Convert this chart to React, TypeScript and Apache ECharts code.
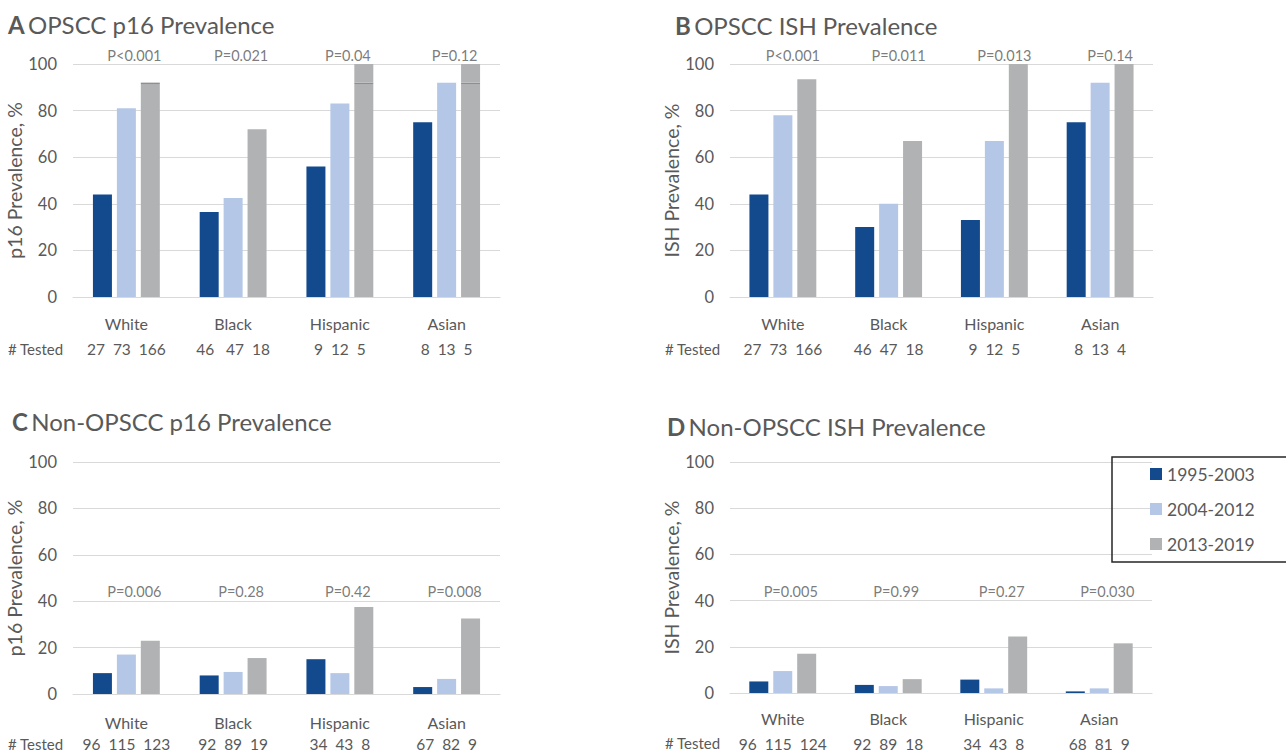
import React, { useEffect, useRef } from "react";
import * as echarts from "echarts";

const categories = ["White", "Black", "Hispanic", "Asian"];
const periods = ["1995-2003", "2004-2012", "2013-2019"];

// Panel A: OPSCC p16
const a1995 = [44, 36.5, 56, 75];
const a2004 = [81, 42.5, 83, 92];
const a2013 = [92, 72, 100, 100];
const aRefLine = [92, null, 92, 92];
const aTested = ["27  73  166", "46   47  18", "9  12  5", "8  13  5"];
const aP = ["P<0.001", "P=0.021", "P=0.04", "P=0.12"];

// Panel B: OPSCC ISH
const b1995 = [44, 30, 33, 75];
const b2004 = [78, 40, 67, 92];
const b2013 = [93.5, 67, 100, 100];
const bTested = ["27  73  166", "46  47  18", "9  12  5", "8  13  4"];
const bP = ["P<0.001", "P=0.011", "P=0.013", "P=0.14"];

// Panel C: Non-OPSCC p16
const c1995 = [9, 8, 15, 3];
const c2004 = [17, 9.5, 9, 6.5];
const c2013 = [23, 15.5, 37.5, 32.5];
const cTested = ["96  115  123", "92  89  19", "34  43  8", "67  82  9"];
const cP = ["P=0.006", "P=0.28", "P=0.42", "P=0.008"];

// Panel D: Non-OPSCC ISH
const d1995 = [5, 3.5, 5.8, 0.7];
const d2004 = [9.5, 3, 2, 2];
const d2013 = [17, 6, 24.5, 21.5];
const dTested = ["96  115  124", "92  89  18", "34  43  8", "68  81  9"];
const dP = ["P=0.005", "P=0.99", "P=0.27", "P=0.030"];

const FONT = "Lato, 'Open Sans', sans-serif";
const TXT = "#595959";
const C1 = "#134A8E";
const C2 = "#B4C7E7";
const C3 = "#B1B2B4";
const REF = "#8E8F91";

type Panel = {
  letter: string;
  title: string;
  yName: string;
  s1: number[];
  s2: number[];
  s3: number[];
  ref?: (number | null)[];
  tested: string[];
  p: string[];
  grid: { left: number; top: number; width: number; height: number };
  titlePos: [number, number];
  testedPos: [number, number];
  pLevel: number;
  pOffset: number;
  labelMargin: number;
  lineH: number;
  nameGap: number;
};

const panels: Panel[] = [
  {
    letter: "A", title: "OPSCC p16 Prevalence", yName: "p16 Prevalence, %",
    s1: a1995, s2: a2004, s3: a2013, ref: aRefLine, tested: aTested, p: aP,
    grid: { left: 73, top: 64, width: 427, height: 233 },
    titlePos: [8, 24], testedPos: [8, 349], pLevel: 103.5, pOffset: 8,
    labelMargin: 13, lineH: 26, nameGap: 46,
  },
  {
    letter: "B", title: "OPSCC ISH Prevalence", yName: "ISH Prevalence, %",
    s1: b1995, s2: b2004, s3: b2013, tested: bTested, p: bP,
    grid: { left: 730, top: 64, width: 423, height: 233 },
    titlePos: [675, 25], testedPos: [665, 349], pLevel: 103.5, pOffset: 10,
    labelMargin: 13, lineH: 26, nameGap: 47,
  },
  {
    letter: "C", title: "Non-OPSCC p16 Prevalence", yName: "p16 Prevalence, %",
    s1: c1995, s2: c2004, s3: c2013, tested: cTested, p: cP,
    grid: { left: 73, top: 462, width: 427, height: 232 },
    titlePos: [12, 421], testedPos: [8, 744], pLevel: 44, pOffset: 8,
    labelMargin: 17, lineH: 22, nameGap: 46,
  },
  {
    letter: "D", title: "Non-OPSCC ISH Prevalence", yName: "ISH Prevalence, %",
    s1: d1995, s2: d2004, s3: d2013, tested: dTested, p: dP,
    grid: { left: 730, top: 462, width: 422, height: 231 },
    titlePos: [667, 426], testedPos: [665, 743], pLevel: 44, pOffset: 8,
    labelMargin: 13, lineH: 25, nameGap: 47,
  },
];

const BAR_W = 19;
const BAR_GAP = "26%";

function buildOption() {
  const grid: any[] = [];
  const xAxis: any[] = [];
  const yAxis: any[] = [];
  const series: any[] = [];
  const graphic: any[] = [];

  panels.forEach((pn, i) => {
    grid.push({ ...pn.grid, containLabel: false });
    xAxis.push({
      type: "category",
      gridIndex: i,
      data: categories,
      axisTick: { show: false },
      axisLine: { lineStyle: { color: "#D9D9D9", width: 1 } },
      axisLabel: {
        interval: 0,
        hideOverlap: false,
        margin: pn.labelMargin,
        formatter: (v: string, idx: number) => `{c|${v}}\n{n|${pn.tested[idx]}}`,
        rich: {
          c: { fontSize: 16, color: TXT, fontFamily: FONT, lineHeight: pn.lineH },
          n: { fontSize: 15.5, color: TXT, fontFamily: FONT, lineHeight: pn.lineH },
        },
      },
    });
    yAxis.push({
      type: "value",
      gridIndex: i,
      min: 0,
      max: 100,
      interval: 20,
      name: pn.yName,
      nameLocation: "middle",
      nameGap: pn.nameGap,
      nameTextStyle: { fontSize: 19.5, color: TXT, fontFamily: FONT },
      axisLine: { show: false },
      axisTick: { show: false },
      axisLabel: { fontSize: 16.5, color: TXT, fontFamily: FONT, margin: 16 },
      splitLine: { lineStyle: { color: "#D9D9D9", width: 1 } },
    });

    const common = {
      type: "bar",
      xAxisIndex: i,
      yAxisIndex: i,
      barWidth: BAR_W,
      barGap: BAR_GAP,
      silent: true,
    };
    series.push({ ...common, name: periods[0], data: pn.s1, itemStyle: { color: C1 } });
    series.push({ ...common, name: periods[1], data: pn.s2, itemStyle: { color: C2 } });
    if (pn.ref) {
      const ref = pn.ref;
      const base = pn.s3.map((v, k) => (ref[k] != null ? Math.min(v, (ref[k] as number) - 0.6) : v));
      const line = pn.s3.map((v, k) => (ref[k] != null ? 0.6 : 0));
      const top = pn.s3.map((v, k) => (ref[k] != null ? Math.max(0, v - (ref[k] as number)) : 0));
      series.push({ ...common, name: periods[2], stack: "g" + i, data: base, itemStyle: { color: C3 } });
      series.push({ ...common, name: "ref", stack: "g" + i, data: line, itemStyle: { color: REF } });
      series.push({ ...common, name: "top", stack: "g" + i, data: top, itemStyle: { color: C3 } });
    } else {
      series.push({ ...common, name: periods[2], data: pn.s3, itemStyle: { color: C3 } });
    }
    series.push({
      type: "scatter",
      name: "p" + i,
      xAxisIndex: i,
      yAxisIndex: i,
      clip: false,
      silent: true,
      symbolSize: 1,
      itemStyle: { color: "rgba(0,0,0,0)" },
      data: pn.p.map((_, k) => [k, pn.pLevel]),
      label: {
        show: true,
        position: "inside",
        offset: [pn.pOffset, 0],
        formatter: (prm: any) => pn.p[prm.dataIndex],
        fontSize: 14.5,
        color: TXT,
        fontFamily: FONT,
      },
    });

    graphic.push({
      type: "text",
      x: pn.titlePos[0],
      y: pn.titlePos[1],
      silent: true,
      style: {
        text: `{b|${pn.letter}} {n|${pn.title}}`,
        verticalAlign: "middle",
        rich: {
          b: { fontSize: 24, fontWeight: "bold", fill: TXT, fontFamily: FONT },
          n: { fontSize: 24, fill: TXT, fontFamily: FONT },
        },
      },
    });
    graphic.push({
      type: "text",
      x: pn.testedPos[0],
      y: pn.testedPos[1],
      silent: true,
      style: {
        text: "# Tested",
        verticalAlign: "middle",
        fontSize: 15,
        fill: TXT,
        fontFamily: FONT,
      },
    });
  });

  return {
    animation: false,
    backgroundColor: "#ffffff",
    grid,
    xAxis,
    yAxis,
    series,
    graphic,
    legend: {
      data: periods,
      orient: "vertical",
      left: 1112,
      top: 457,
      padding: [8, 90, 9, 38],
      itemWidth: 12,
      itemHeight: 12,
      itemGap: 17,
      icon: "rect",
      selectedMode: false,
      borderColor: "#262626",
      borderWidth: 1.5,
      textStyle: { fontSize: 17.5, color: TXT, fontFamily: FONT, lineHeight: 17.5 },
    },
  };
}

export default function App() {
  const ref = useRef<HTMLDivElement>(null);
  useEffect(() => {
    if (!ref.current) return;
    const chart = echarts.init(ref.current, null, { renderer: "svg" });
    chart.setOption(buildOption() as any);
    return () => chart.dispose();
  }, []);
  return (
    <div
      ref={ref}
      style={{ position: "fixed", left: 0, top: 0, width: 1286, height: 754, background: "#fff" }}
    />
  );
}
